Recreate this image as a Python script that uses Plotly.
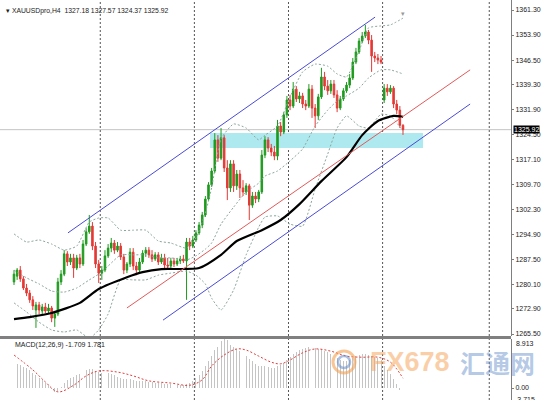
import plotly.graph_objects as go

# ---------------- data ----------------
bar_index = list(range(125))

open_ = [1280.9,1282.6,1284.4,1281.8,1279.1,1277.6,1275.6,1272.6,1274.1,1272.3,
         1273.5,1272.3,1273.2,1270.2,1271.4,1280.9,1283.2,1289.2,1286.8,1288.0,
         1285.0,1288.0,1286.2,1292.1,1295.7,1297.4,1291.5,1286.2,1283.5,1284.4,
         1288.6,1290.9,1292.4,1290.3,1291.5,1288.3,1284.4,1286.2,1289.7,1285.6,
         1284.4,1286.8,1289.4,1290.3,1288.9,1287.7,1288.9,1286.8,1288.0,1285.9,
         1285.6,1287.1,1286.2,1287.1,1287.7,1287.1,1292.7,1291.5,1293.3,1295.4,
         1297.7,1300.7,1305.4,1309.6,1313.7,1322.9,1317.5,1323.5,1314.6,1308.7,
         1315.8,1309.3,1312.8,1308.7,1307.5,1309.3,1303.6,1306.3,1305.4,1307.5,
         1318.4,1322.9,1320.5,1319.3,1318.1,1327.0,1325.2,1330.3,1334.7,1332.9,
         1337.9,1335.0,1335.9,1333.5,1332.9,1337.9,1332.3,1330.0,1335.6,1341.5,
         1338.8,1337.4,1339.4,1336.2,1332.3,1335.0,1337.4,1339.1,1341.2,1345.9,
         1348.9,1352.1,1353.6,1354.8,1352.4,1347.7,1347.1,1346.5,1334.7,1338.2,
         1337.1,1338.2,1333.5,1331.7,1327.18]

high = [1284.4,1285.0,1285.6,1282.6,1280.3,1278.5,1276.7,1275.0,1275.0,1274.4,
        1274.7,1274.4,1273.8,1272.0,1282.1,1284.4,1290.3,1290.0,1289.2,1289.2,
        1288.9,1289.2,1293.3,1296.8,1300.7,1298.6,1292.7,1287.4,1285.6,1290.3,
        1292.1,1293.9,1293.3,1292.7,1292.4,1289.2,1286.8,1290.9,1290.9,1286.8,
        1288.0,1290.3,1291.2,1291.2,1290.3,1289.7,1289.7,1289.2,1289.2,1288.0,
        1288.0,1288.0,1288.0,1288.6,1288.9,1293.9,1293.9,1294.5,1296.2,1298.6,
        1301.6,1306.3,1310.4,1314.6,1324.9,1324.3,1326.4,1324.3,1316.9,1316.9,
        1316.9,1314.0,1314.0,1311.0,1310.1,1309.9,1307.5,1307.5,1308.1,1319.9,
        1324.0,1323.7,1321.7,1321.1,1328.8,1328.2,1331.1,1335.9,1336.2,1340.0,
        1338.8,1337.1,1336.8,1334.7,1339.4,1339.1,1333.5,1336.5,1344.2,1343.0,
        1340.6,1340.6,1340.6,1337.6,1335.9,1338.2,1340.0,1342.4,1347.1,1350.1,
        1353.0,1354.8,1356.9,1355.4,1353.9,1348.9,1348.3,1347.7,1339.4,1339.4,
        1339.1,1338.8,1334.7,1332.9,1327.57]

low = [1280.0,1281.5,1280.9,1278.5,1276.7,1274.7,1272.6,1267.3,1271.4,1271.4,
       1271.7,1271.4,1269.0,1267.6,1270.8,1280.0,1282.6,1285.6,1285.9,1282.1,
       1284.4,1285.0,1285.6,1291.5,1295.1,1290.3,1285.0,1280.6,1281.5,1283.8,
       1288.0,1289.7,1289.2,1289.7,1287.4,1283.2,1283.5,1285.3,1284.4,1282.9,
       1283.8,1286.2,1288.3,1288.0,1286.8,1287.1,1285.9,1286.2,1285.0,1285.0,
       1285.0,1285.3,1285.6,1286.2,1286.5,1275.6,1290.3,1290.9,1292.7,1294.8,
       1296.8,1300.1,1304.8,1309.0,1313.1,1316.4,1316.9,1313.4,1305.1,1307.5,
       1307.5,1308.1,1305.7,1306.3,1306.6,1299.2,1302.8,1304.2,1304.5,1306.9,
       1317.5,1319.3,1318.1,1316.9,1316.9,1324.0,1324.6,1329.4,1331.7,1332.3,
       1334.1,1333.8,1332.3,1331.7,1332.3,1329.4,1326.4,1328.8,1335.0,1337.6,
       1336.2,1336.5,1335.3,1331.1,1331.7,1334.4,1336.8,1338.2,1340.6,1345.3,
       1348.3,1351.5,1353.0,1351.2,1343.0,1345.9,1345.3,1345.3,1333.8,1335.9,
       1336.5,1332.3,1330.5,1326.4,1324.37]

close = [1283.2,1284.4,1281.8,1279.1,1277.6,1275.6,1273.8,1274.1,1272.6,1273.5,
         1272.3,1273.2,1270.2,1271.4,1280.9,1283.2,1289.2,1286.8,1288.0,1285.0,
         1288.0,1286.2,1292.1,1295.7,1297.4,1291.5,1286.2,1283.5,1284.4,1288.6,
         1290.9,1292.4,1290.3,1291.5,1288.3,1284.4,1286.2,1289.7,1285.6,1284.4,
         1286.8,1289.4,1290.3,1288.9,1287.7,1288.9,1286.8,1288.0,1285.9,1285.6,
         1287.1,1286.2,1287.1,1287.7,1287.1,1292.7,1291.5,1293.3,1295.4,1297.7,
         1300.7,1305.4,1309.6,1313.7,1322.9,1317.5,1323.5,1314.6,1308.7,1315.8,
         1309.3,1312.8,1308.7,1307.5,1309.3,1303.6,1306.3,1305.4,1307.5,1318.4,
         1322.9,1320.5,1319.3,1318.1,1327.0,1325.2,1330.3,1334.7,1332.9,1337.9,
         1335.0,1335.9,1333.5,1332.9,1337.9,1332.3,1330.0,1335.6,1341.5,1338.8,
         1337.4,1339.4,1336.2,1332.3,1335.0,1337.4,1339.1,1341.2,1345.9,1348.9,
         1352.1,1353.6,1354.8,1352.4,1347.7,1347.1,1346.5,1345.9,1338.2,1337.1,
         1338.2,1333.5,1331.7,1327.2,1325.92]

# Bollinger band lines (grey dashed)
bb_index = [0,4,8,12,16,20,24,27,30,34,38,42,46,50,55,58,61,63,66,70,74,78,80,84,88,92,96,100,103,106,110,113,117,120,124]
bb_upper = [1295.1,1292.7,1293.3,1292.1,1290.3,1291.5,1298.6,1299.8,1299.8,1296.2,1296.2,1296.2,1293.0,1292.4,1290.9,1293.9,
            1301.3,1308.7,1323.2,1327.6,1326.4,1322.9,1324.3,1327.0,1335.6,1343.0,1345.3,1344.7,1342.4,1341.5,1349.2,1356.0,1356.6,1356.9,1358.9]
bb_middle = [1284.4,1282.1,1280.3,1278.2,1277.9,1279.1,1281.5,1283.2,1285.6,1288.9,1288.9,1288.9,1288.0,1288.0,1287.4,1288.6,
             1290.6,1292.4,1298.0,1303.0,1307.5,1310.1,1312.2,1313.7,1316.7,1320.2,1327.0,1331.7,1334.4,1335.9,1338.2,1341.2,1343.6,1343.6,1342.4]
bb_lower = [1274.7,1272.0,1269.0,1266.7,1266.1,1266.7,1264.3,1266.7,1271.4,1281.5,1281.5,1281.5,1282.9,1283.5,1284.1,1282.9,
            1280.3,1276.1,1272.6,1278.5,1288.9,1297.1,1300.1,1300.4,1298.0,1297.4,1308.4,1318.7,1326.4,1330.0,1327.0,1326.4,1330.5,1330.0,1325.5]

# moving average (thick black)
ma_index = [0,5,12,21,27,36,41,47,59,66,71,79,85,91,98,106,111,116,121,124]
ma_values = [1269.9,1270.5,1271.7,1274.7,1278.8,1282.3,1283.8,1284.7,1285.0,1288.9,1293.0,1296.2,1299.2,1303.9,1310.7,1317.8,1324.3,1328.5,1330.0,1329.7]

# channel lines (bar index, price)
chan_upper_x = [17.2, 115.1]
chan_upper_y = [1295.4, 1359.2]
chan_mid_x = [36.0, 145.4]
chan_mid_y = [1273.2, 1343.6]
chan_lower_x = [47.5, 145.4]
chan_lower_y = [1269.6, 1333.5]

# support zone
zone_x = [62.5, 130.4]
zone_y = [1320.5, 1324.9]

# period separators (bar index)
separators = [27.5, 57.5, 87.5, 117.5, 151.5]

last_price = 1325.92

price_ticks = [1361.30, 1353.90, 1346.50, 1339.30, 1331.90, 1324.50, 1317.10,
               1309.70, 1302.30, 1294.90, 1287.50, 1280.10, 1272.90, 1265.50]
price_tick_text = ["1361.30", "1353.90", "1346.50", "1339.30", "1331.90", "1324.50", "1317.10",
                   "1309.70", "1302.30", "1294.90", "1287.50", "1280.10", "1272.90", "1265.50"]

# MACD
macd_hist = [4.5,4.4,4.2,3.8,3.6,3.3,2.7,2.4,1.8,1.5,
             0.9,0.5,-0.2,-0.7,-0.5,0.2,0.9,1.5,1.8,2.0,
             2.4,2.5,2.9,3.3,3.5,3.5,3.1,2.9,2.7,2.7,
             2.7,2.5,2.4,2.0,1.8,1.6,1.6,1.6,1.5,1.3,
             1.3,1.3,1.3,1.1,1.1,0.9,0.9,0.9,0.7,0.7,
             0.7,0.5,0.5,0.5,0.5,0.7,0.9,1.3,1.8,2.4,
             3.1,4.0,4.9,5.8,6.9,7.5,8.5,8.9,8.7,7.8,
             7.5,7.1,6.7,6.2,5.8,5.3,4.9,4.4,4.0,4.0,
             4.0,3.8,3.6,3.6,4.0,4.2,4.5,5.1,5.6,6.2,
             6.5,6.9,7.1,7.3,7.5,7.5,7.3,7.1,7.1,6.7,
             6.5,6.2,5.8,5.5,5.1,4.9,4.9,5.1,5.5,5.8,
             6.0,6.2,6.2,6.0,5.8,5.6,5.5,5.1,4.0,3.3,
             2.5,1.6,0.7,-0.4,-1.709]
signal_index = [0,6,10,14,19,23,27,33,38,43,50,56,60,63,67,71,74,78,82,85,88,92,96,101,106,111,116,120,124]
signal_values = [6.0,3.3,1.1,-0.7,0.5,2.2,3.1,2.9,2.2,1.3,0.9,0.5,1.5,4.0,6.0,7.1,6.9,5.8,4.7,4.4,5.1,6.4,7.1,6.7,5.8,5.6,5.6,4.7,1.781]

title_text = "▾ XAUUSDpro,H4  1327.18 1327.57 1324.37 1325.92"
macd_text = "MACD(12,26,9) -1.709 1.781"

# ---------------- figure ----------------
W, H = 556, 400
PW = 511  # plot width in px
FONT = "Liberation Sans, Arial, sans-serif"

def px_x(p):
    return p / PW

def px_y(p):
    return (H - p) / H

fig = go.Figure()

fig.add_trace(go.Candlestick(
    x=bar_index, open=open_, high=high, low=low, close=close,
    increasing=dict(line=dict(color="#1e9b1e", width=1), fillcolor="#1e9b1e"),
    decreasing=dict(line=dict(color="#e53935", width=1), fillcolor="#e53935"),
    whiskerwidth=0, xaxis="x", yaxis="y", hoverinfo="skip"))

for ys in (bb_upper, bb_middle, bb_lower):
    fig.add_trace(go.Scatter(x=bb_index, y=ys, mode="lines",
                             line=dict(color="#8aa69c", width=1, dash="2px,2px", shape="spline", smoothing=0.5),
                             xaxis="x", yaxis="y", hoverinfo="skip"))

fig.add_trace(go.Scatter(x=ma_index, y=ma_values, mode="lines",
                         line=dict(color="black", width=2.2, shape="spline", smoothing=0.6),
                         xaxis="x", yaxis="y", hoverinfo="skip"))

for xs, ys, col in ((chan_upper_x, chan_upper_y, "#4a4ad6"),
                    (chan_mid_x, chan_mid_y, "#e25a5a"),
                    (chan_lower_x, chan_lower_y, "#4a4ad6")):
    fig.add_trace(go.Scatter(x=xs, y=ys, mode="lines", line=dict(color=col, width=1),
                             xaxis="x", yaxis="y", hoverinfo="skip"))

fig.add_trace(go.Bar(x=bar_index, y=macd_hist, width=0.3,
                     marker=dict(color="#c4c4c4", line=dict(width=0)),
                     xaxis="x2", yaxis="y2", hoverinfo="skip"))
fig.add_trace(go.Scatter(x=signal_index, y=signal_values, mode="lines",
                         line=dict(color="#e23c3c", width=1, dash="2px,2px", shape="spline"),
                         xaxis="x2", yaxis="y2", hoverinfo="skip"))

shapes = []
shapes.append(dict(type="rect", xref="x", yref="y", x0=zone_x[0], x1=zone_x[1],
                   y0=zone_y[0], y1=zone_y[1], fillcolor="#aee9ef",
                   line=dict(width=0), layer="below"))
shapes.append(dict(type="line", xref="paper", yref="y", x0=0, x1=1,
                   y0=last_price, y1=last_price, line=dict(color="#c4c4c4", width=1),
                   layer="below"))
for s in separators:
    shapes.append(dict(type="line", xref="x", yref="paper", x0=s, x1=s, y0=0, y1=1,
                       line=dict(color="#555555", width=1, dash="2px,2px"), layer="below"))
shapes.append(dict(type="rect", xref="paper", yref="paper", x0=0, x1=1,
                   y0=px_y(339), y1=px_y(336), fillcolor="#808080", line=dict(width=0)))
# watermark logo
shapes.append(dict(type="circle", xref="paper", yref="paper",
                   x0=px_x(333), x1=px_x(355), y0=px_y(373), y1=px_y(351),
                   line=dict(color="rgba(243,160,80,0.6)", width=3)))
shapes.append(dict(type="circle", xref="paper", yref="paper",
                   x0=px_x(338), x1=px_x(350), y0=px_y(368), y1=px_y(356),
                   line=dict(color="rgba(100,140,200,0.55)", width=2.5)))

annotations = [
    dict(text=title_text, xref="paper", yref="paper", x=px_x(4), y=px_y(11),
         xanchor="left", yanchor="middle", showarrow=False,
         font=dict(size=6.8, color="#222", family=FONT)),
    dict(text=macd_text, xref="paper", yref="paper", x=px_x(13), y=px_y(345),
         xanchor="left", yanchor="middle", showarrow=False,
         font=dict(size=7, color="#222", family=FONT)),
    dict(text="8.913", xref="paper", yref="paper", x=px_x(514), y=px_y(343),
         xanchor="left", yanchor="middle", showarrow=False,
         font=dict(size=7, color="#222", family=FONT)),
    dict(text="-3.715", xref="paper", yref="paper", x=px_x(513), y=px_y(399),
         xanchor="left", yanchor="middle", showarrow=False,
         font=dict(size=7, color="#222", family=FONT)),
    dict(text=f"{last_price:.2f}", xref="paper", yref="y", x=px_x(513), y=last_price,
         xanchor="left", yanchor="middle", showarrow=False, bgcolor="black",
         borderpad=0, font=dict(size=7, color="white", family=FONT)),
    dict(text="▾", xref="paper", yref="paper", x=px_x(407), y=px_y(8),
         showarrow=False, font=dict(size=7, color="#999", family=FONT)),
    dict(text="<b>FX678</b>", xref="paper", yref="paper", x=px_x(410), y=px_y(362),
         xanchor="center", yanchor="middle", showarrow=False,
         font=dict(size=27, color="rgba(245,160,80,0.5)", family=FONT)),
    dict(text="<b>汇通网</b>", xref="paper", yref="paper", x=px_x(497), y=px_y(362),
         xanchor="center", yanchor="middle", showarrow=False,
         font=dict(size=25, color="rgba(90,135,200,0.45)", family="Noto Sans CJK SC")),
]

axis_common = dict(showgrid=False, zeroline=False)
fig.update_layout(
    width=W, height=H, margin=dict(l=0, r=W - PW, t=0, b=0),
    paper_bgcolor="white", plot_bgcolor="white", showlegend=False,
    xaxis=dict(domain=[0, 1], range=[-4.463, 158.43], visible=False,
               rangeslider=dict(visible=False), anchor="y", **axis_common),
    xaxis2=dict(domain=[0, 1], range=[-4.463, 158.43], visible=False, matches="x",
                anchor="y2", **axis_common),
    yaxis=dict(domain=[px_y(336), 1], range=[1264.91, 1364.26], side="right",
               tickvals=price_ticks, ticktext=price_tick_text, showline=True,
               linecolor="#7f7f7f", linewidth=1, ticks="outside", ticklen=2,
               tickcolor="#7f7f7f", tickfont=dict(size=7, color="#222", family=FONT),
               anchor="x", **axis_common),
    yaxis2=dict(domain=[0, px_y(339)], range=[-2.18, 8.913], side="right",
                tickvals=[0], ticktext=["0.00"], showline=True,
                linecolor="#7f7f7f", linewidth=1, ticks="outside", ticklen=2,
                tickcolor="#7f7f7f", tickfont=dict(size=7, color="#222", family=FONT),
                anchor="x2", **axis_common),
    shapes=shapes, annotations=annotations, bargap=0,
)

fig.write_html("out.html", config={"displayModeBar": False, "staticPlot": True},
               post_script="document.body.style.margin='0px';document.body.style.overflow='hidden';")
